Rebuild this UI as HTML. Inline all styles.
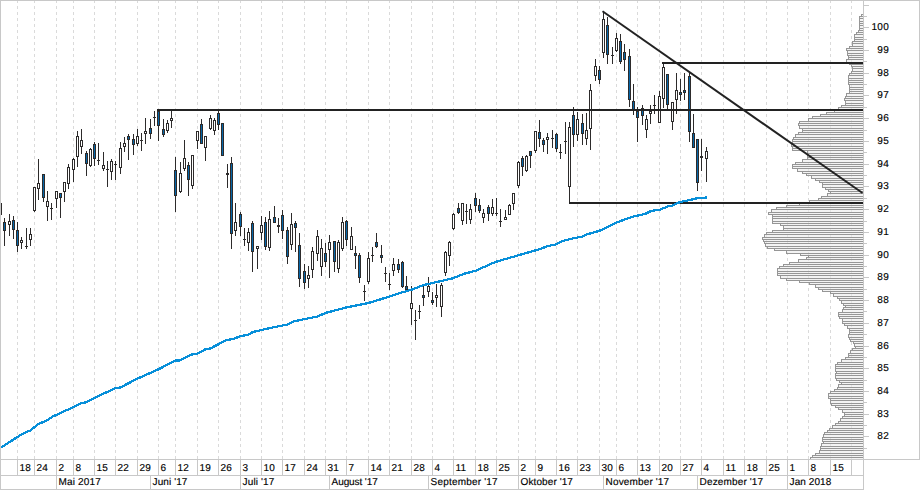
<!DOCTYPE html>
<html><head><meta charset="utf-8"><title>Chart</title>
<style>html,body{margin:0;padding:0;background:#fff;}svg{display:block;}text{font-family:"Liberation Sans",sans-serif;font-size:10px;fill:#000;stroke:#000;stroke-width:0.15px;letter-spacing:0.3px;text-rendering:geometricPrecision;}</style></head><body>
<svg width="920" height="490" viewBox="0 0 920 490">
<rect x="0" y="0" width="920" height="490" fill="#fff"/>
<g shape-rendering="crispEdges" stroke="#dadada" stroke-width="1" stroke-dasharray="3,3">
<line x1="17.5" y1="0" x2="17.5" y2="459"/>
<line x1="34.5" y1="0" x2="34.5" y2="459"/>
<line x1="56.5" y1="0" x2="56.5" y2="459"/>
<line x1="73.5" y1="0" x2="73.5" y2="459"/>
<line x1="94.5" y1="0" x2="94.5" y2="459"/>
<line x1="115.5" y1="0" x2="115.5" y2="459"/>
<line x1="137.5" y1="0" x2="137.5" y2="459"/>
<line x1="158.5" y1="0" x2="158.5" y2="459"/>
<line x1="175.5" y1="0" x2="175.5" y2="459"/>
<line x1="197.5" y1="0" x2="197.5" y2="459"/>
<line x1="218.5" y1="0" x2="218.5" y2="459"/>
<line x1="240.5" y1="0" x2="240.5" y2="459"/>
<line x1="261.5" y1="0" x2="261.5" y2="459"/>
<line x1="282.5" y1="0" x2="282.5" y2="459"/>
<line x1="304.5" y1="0" x2="304.5" y2="459"/>
<line x1="325.5" y1="0" x2="325.5" y2="459"/>
<line x1="346.5" y1="0" x2="346.5" y2="459"/>
<line x1="368.5" y1="0" x2="368.5" y2="459"/>
<line x1="389.5" y1="0" x2="389.5" y2="459"/>
<line x1="411.5" y1="0" x2="411.5" y2="459"/>
<line x1="432.5" y1="0" x2="432.5" y2="459"/>
<line x1="453.5" y1="0" x2="453.5" y2="459"/>
<line x1="475.5" y1="0" x2="475.5" y2="459"/>
<line x1="496.5" y1="0" x2="496.5" y2="459"/>
<line x1="518.5" y1="0" x2="518.5" y2="459"/>
<line x1="535.5" y1="0" x2="535.5" y2="459"/>
<line x1="556.5" y1="0" x2="556.5" y2="459"/>
<line x1="577.5" y1="0" x2="577.5" y2="459"/>
<line x1="599.5" y1="0" x2="599.5" y2="459"/>
<line x1="616.5" y1="0" x2="616.5" y2="459"/>
<line x1="637.5" y1="0" x2="637.5" y2="459"/>
<line x1="659.5" y1="0" x2="659.5" y2="459"/>
<line x1="680.5" y1="0" x2="680.5" y2="459"/>
<line x1="701.5" y1="0" x2="701.5" y2="459"/>
<line x1="723.5" y1="0" x2="723.5" y2="459"/>
<line x1="744.5" y1="0" x2="744.5" y2="459"/>
<line x1="766.5" y1="0" x2="766.5" y2="459"/>
<line x1="787.5" y1="0" x2="787.5" y2="459"/>
<line x1="808.5" y1="0" x2="808.5" y2="459"/>
<line x1="830.5" y1="0" x2="830.5" y2="459"/>
<line x1="851.5" y1="0" x2="851.5" y2="459"/>
</g>
<g shape-rendering="crispEdges" fill="#ebebeb" fill-opacity="0.6">
<rect x="861" y="14" width="2" height="2"/>
<rect x="859" y="16" width="4" height="2"/>
<rect x="859" y="18" width="4" height="3"/>
<rect x="859" y="21" width="4" height="2"/>
<rect x="859" y="23" width="4" height="2"/>
<rect x="859" y="25" width="4" height="3"/>
<rect x="859" y="28" width="4" height="2"/>
<rect x="858" y="30" width="5" height="2"/>
<rect x="856" y="32" width="7" height="2"/>
<rect x="854" y="34" width="9" height="3"/>
<rect x="854" y="37" width="9" height="2"/>
<rect x="854" y="39" width="9" height="2"/>
<rect x="852" y="41" width="11" height="2"/>
<rect x="852" y="43" width="11" height="3"/>
<rect x="849" y="46" width="14" height="2"/>
<rect x="846" y="48" width="17" height="2"/>
<rect x="847" y="50" width="16" height="3"/>
<rect x="847" y="53" width="16" height="2"/>
<rect x="848" y="55" width="15" height="2"/>
<rect x="848" y="57" width="15" height="2"/>
<rect x="846" y="59" width="17" height="3"/>
<rect x="849" y="62" width="14" height="2"/>
<rect x="851" y="64" width="12" height="2"/>
<rect x="852" y="66" width="11" height="2"/>
<rect x="852" y="68" width="11" height="3"/>
<rect x="851" y="71" width="12" height="2"/>
<rect x="849" y="73" width="14" height="2"/>
<rect x="848" y="75" width="15" height="3"/>
<rect x="848" y="78" width="15" height="2"/>
<rect x="848" y="80" width="15" height="2"/>
<rect x="848" y="82" width="15" height="2"/>
<rect x="849" y="84" width="14" height="3"/>
<rect x="849" y="87" width="14" height="2"/>
<rect x="849" y="89" width="14" height="2"/>
<rect x="849" y="91" width="14" height="2"/>
<rect x="846" y="93" width="17" height="3"/>
<rect x="845" y="96" width="18" height="2"/>
<rect x="844" y="98" width="19" height="2"/>
<rect x="845" y="100" width="18" height="3"/>
<rect x="845" y="103" width="18" height="2"/>
<rect x="841" y="105" width="22" height="2"/>
<rect x="838" y="107" width="25" height="2"/>
<rect x="834" y="109" width="29" height="3"/>
<rect x="826" y="112" width="37" height="2"/>
<rect x="820" y="114" width="43" height="2"/>
<rect x="812" y="116" width="51" height="2"/>
<rect x="808" y="118" width="55" height="3"/>
<rect x="799" y="121" width="64" height="2"/>
<rect x="798" y="123" width="65" height="2"/>
<rect x="799" y="125" width="64" height="3"/>
<rect x="802" y="128" width="61" height="2"/>
<rect x="802" y="130" width="61" height="2"/>
<rect x="798" y="132" width="65" height="2"/>
<rect x="795" y="134" width="68" height="3"/>
<rect x="793" y="137" width="70" height="2"/>
<rect x="792" y="139" width="71" height="2"/>
<rect x="792" y="141" width="71" height="2"/>
<rect x="791" y="143" width="72" height="3"/>
<rect x="792" y="146" width="71" height="2"/>
<rect x="792" y="148" width="71" height="2"/>
<rect x="807" y="150" width="56" height="3"/>
<rect x="807" y="153" width="56" height="2"/>
<rect x="807" y="155" width="56" height="2"/>
<rect x="807" y="157" width="56" height="2"/>
<rect x="802" y="159" width="61" height="3"/>
<rect x="795" y="162" width="68" height="2"/>
<rect x="792" y="164" width="71" height="2"/>
<rect x="792" y="166" width="71" height="2"/>
<rect x="797" y="168" width="66" height="3"/>
<rect x="802" y="171" width="61" height="2"/>
<rect x="806" y="173" width="57" height="2"/>
<rect x="811" y="175" width="52" height="3"/>
<rect x="815" y="178" width="48" height="2"/>
<rect x="819" y="180" width="44" height="2"/>
<rect x="822" y="182" width="41" height="2"/>
<rect x="822" y="184" width="41" height="3"/>
<rect x="825" y="187" width="38" height="2"/>
<rect x="828" y="189" width="35" height="2"/>
<rect x="830" y="191" width="33" height="2"/>
<rect x="827" y="193" width="36" height="3"/>
<rect x="821" y="196" width="42" height="2"/>
<rect x="818" y="198" width="45" height="2"/>
<rect x="809" y="200" width="54" height="3"/>
<rect x="799" y="203" width="64" height="2"/>
<rect x="786" y="205" width="77" height="2"/>
<rect x="776" y="207" width="87" height="2"/>
<rect x="771" y="209" width="92" height="3"/>
<rect x="768" y="212" width="95" height="2"/>
<rect x="772" y="214" width="91" height="2"/>
<rect x="772" y="216" width="91" height="2"/>
<rect x="772" y="218" width="91" height="3"/>
<rect x="772" y="221" width="91" height="2"/>
<rect x="780" y="223" width="83" height="2"/>
<rect x="783" y="225" width="80" height="3"/>
<rect x="783" y="228" width="80" height="2"/>
<rect x="772" y="230" width="91" height="2"/>
<rect x="766" y="232" width="97" height="2"/>
<rect x="764" y="234" width="99" height="3"/>
<rect x="762" y="237" width="101" height="2"/>
<rect x="763" y="239" width="100" height="2"/>
<rect x="764" y="241" width="99" height="2"/>
<rect x="765" y="243" width="98" height="3"/>
<rect x="767" y="246" width="96" height="2"/>
<rect x="774" y="248" width="89" height="2"/>
<rect x="786" y="250" width="77" height="3"/>
<rect x="800" y="253" width="63" height="2"/>
<rect x="808" y="255" width="55" height="2"/>
<rect x="806" y="257" width="57" height="2"/>
<rect x="798" y="259" width="65" height="3"/>
<rect x="789" y="262" width="74" height="2"/>
<rect x="783" y="264" width="80" height="2"/>
<rect x="779" y="266" width="84" height="2"/>
<rect x="777" y="268" width="86" height="3"/>
<rect x="777" y="271" width="86" height="2"/>
<rect x="777" y="273" width="86" height="2"/>
<rect x="780" y="275" width="83" height="3"/>
<rect x="786" y="278" width="77" height="2"/>
<rect x="799" y="280" width="64" height="2"/>
<rect x="809" y="282" width="54" height="2"/>
<rect x="815" y="284" width="48" height="3"/>
<rect x="818" y="287" width="45" height="2"/>
<rect x="822" y="289" width="41" height="2"/>
<rect x="830" y="291" width="33" height="2"/>
<rect x="833" y="293" width="30" height="3"/>
<rect x="837" y="296" width="26" height="2"/>
<rect x="839" y="298" width="24" height="2"/>
<rect x="841" y="300" width="22" height="3"/>
<rect x="843" y="303" width="20" height="2"/>
<rect x="845" y="305" width="18" height="2"/>
<rect x="843" y="307" width="20" height="2"/>
<rect x="842" y="309" width="21" height="3"/>
<rect x="838" y="312" width="25" height="2"/>
<rect x="838" y="314" width="25" height="2"/>
<rect x="839" y="316" width="24" height="2"/>
<rect x="842" y="318" width="21" height="3"/>
<rect x="842" y="321" width="21" height="2"/>
<rect x="844" y="323" width="19" height="2"/>
<rect x="847" y="325" width="16" height="3"/>
<rect x="849" y="328" width="14" height="2"/>
<rect x="849" y="330" width="14" height="2"/>
<rect x="849" y="332" width="14" height="2"/>
<rect x="848" y="334" width="15" height="3"/>
<rect x="849" y="337" width="14" height="2"/>
<rect x="850" y="339" width="13" height="2"/>
<rect x="853" y="341" width="10" height="2"/>
<rect x="854" y="343" width="9" height="3"/>
<rect x="855" y="346" width="8" height="2"/>
<rect x="852" y="348" width="11" height="2"/>
<rect x="850" y="350" width="13" height="3"/>
<rect x="848" y="353" width="15" height="2"/>
<rect x="848" y="355" width="15" height="2"/>
<rect x="845" y="357" width="18" height="2"/>
<rect x="841" y="359" width="22" height="3"/>
<rect x="837" y="362" width="26" height="2"/>
<rect x="835" y="364" width="28" height="2"/>
<rect x="835" y="366" width="28" height="2"/>
<rect x="835" y="368" width="28" height="3"/>
<rect x="836" y="371" width="27" height="2"/>
<rect x="835" y="373" width="28" height="2"/>
<rect x="835" y="375" width="28" height="3"/>
<rect x="836" y="378" width="27" height="2"/>
<rect x="839" y="380" width="24" height="2"/>
<rect x="841" y="382" width="22" height="2"/>
<rect x="838" y="384" width="25" height="3"/>
<rect x="837" y="387" width="26" height="2"/>
<rect x="834" y="389" width="29" height="2"/>
<rect x="830" y="391" width="33" height="2"/>
<rect x="828" y="393" width="35" height="3"/>
<rect x="828" y="396" width="35" height="2"/>
<rect x="830" y="398" width="33" height="2"/>
<rect x="830" y="400" width="33" height="3"/>
<rect x="831" y="403" width="32" height="2"/>
<rect x="835" y="405" width="28" height="2"/>
<rect x="838" y="407" width="25" height="2"/>
<rect x="842" y="409" width="21" height="3"/>
<rect x="844" y="412" width="19" height="2"/>
<rect x="844" y="414" width="19" height="2"/>
<rect x="842" y="416" width="21" height="2"/>
<rect x="840" y="418" width="23" height="3"/>
<rect x="838" y="421" width="25" height="2"/>
<rect x="835" y="423" width="28" height="2"/>
<rect x="832" y="425" width="31" height="3"/>
<rect x="829" y="428" width="34" height="2"/>
<rect x="827" y="430" width="36" height="2"/>
<rect x="824" y="432" width="39" height="2"/>
<rect x="823" y="434" width="40" height="3"/>
<rect x="822" y="437" width="41" height="2"/>
<rect x="822" y="439" width="41" height="2"/>
<rect x="823" y="441" width="40" height="2"/>
<rect x="821" y="443" width="42" height="3"/>
<rect x="820" y="446" width="43" height="2"/>
<rect x="820" y="448" width="43" height="2"/>
<rect x="819" y="450" width="44" height="3"/>
<rect x="815" y="453" width="48" height="2"/>
<rect x="812" y="455" width="51" height="2"/>
<rect x="810" y="457" width="53" height="2"/>
</g>
<g shape-rendering="crispEdges" fill="#969696">
<rect x="861" y="14" width="2" height="1"/>
<rect x="859" y="16" width="4" height="1"/>
<rect x="859" y="18" width="4" height="1"/>
<rect x="859" y="21" width="4" height="1"/>
<rect x="859" y="23" width="4" height="1"/>
<rect x="859" y="25" width="4" height="1"/>
<rect x="859" y="28" width="4" height="1"/>
<rect x="858" y="30" width="5" height="1"/>
<rect x="856" y="32" width="7" height="1"/>
<rect x="854" y="34" width="9" height="1"/>
<rect x="854" y="37" width="9" height="1"/>
<rect x="854" y="39" width="9" height="1"/>
<rect x="852" y="41" width="11" height="1"/>
<rect x="852" y="43" width="11" height="1"/>
<rect x="849" y="46" width="14" height="1"/>
<rect x="846" y="48" width="17" height="1"/>
<rect x="846" y="50" width="17" height="1"/>
<rect x="847" y="53" width="16" height="1"/>
<rect x="847" y="55" width="16" height="1"/>
<rect x="848" y="57" width="15" height="1"/>
<rect x="846" y="59" width="17" height="1"/>
<rect x="846" y="62" width="17" height="1"/>
<rect x="849" y="64" width="14" height="1"/>
<rect x="851" y="66" width="12" height="1"/>
<rect x="852" y="68" width="11" height="1"/>
<rect x="851" y="71" width="12" height="1"/>
<rect x="849" y="73" width="14" height="1"/>
<rect x="848" y="75" width="15" height="1"/>
<rect x="848" y="78" width="15" height="1"/>
<rect x="848" y="80" width="15" height="1"/>
<rect x="848" y="82" width="15" height="1"/>
<rect x="848" y="84" width="15" height="1"/>
<rect x="849" y="87" width="14" height="1"/>
<rect x="849" y="89" width="14" height="1"/>
<rect x="849" y="91" width="14" height="1"/>
<rect x="846" y="93" width="17" height="1"/>
<rect x="845" y="96" width="18" height="1"/>
<rect x="844" y="98" width="19" height="1"/>
<rect x="844" y="100" width="19" height="1"/>
<rect x="845" y="103" width="18" height="1"/>
<rect x="841" y="105" width="22" height="1"/>
<rect x="838" y="107" width="25" height="1"/>
<rect x="834" y="109" width="29" height="1"/>
<rect x="826" y="112" width="37" height="1"/>
<rect x="820" y="114" width="43" height="1"/>
<rect x="812" y="116" width="51" height="1"/>
<rect x="808" y="118" width="55" height="1"/>
<rect x="799" y="121" width="64" height="1"/>
<rect x="798" y="123" width="65" height="1"/>
<rect x="798" y="125" width="65" height="1"/>
<rect x="799" y="128" width="64" height="1"/>
<rect x="802" y="130" width="61" height="1"/>
<rect x="798" y="132" width="65" height="1"/>
<rect x="795" y="134" width="68" height="1"/>
<rect x="793" y="137" width="70" height="1"/>
<rect x="792" y="139" width="71" height="1"/>
<rect x="792" y="141" width="71" height="1"/>
<rect x="791" y="143" width="72" height="1"/>
<rect x="791" y="146" width="72" height="1"/>
<rect x="792" y="148" width="71" height="1"/>
<rect x="792" y="150" width="71" height="1"/>
<rect x="807" y="153" width="56" height="1"/>
<rect x="807" y="155" width="56" height="1"/>
<rect x="807" y="157" width="56" height="1"/>
<rect x="802" y="159" width="61" height="1"/>
<rect x="795" y="162" width="68" height="1"/>
<rect x="792" y="164" width="71" height="1"/>
<rect x="792" y="166" width="71" height="1"/>
<rect x="792" y="168" width="71" height="1"/>
<rect x="797" y="171" width="66" height="1"/>
<rect x="802" y="173" width="61" height="1"/>
<rect x="806" y="175" width="57" height="1"/>
<rect x="811" y="178" width="52" height="1"/>
<rect x="815" y="180" width="48" height="1"/>
<rect x="819" y="182" width="44" height="1"/>
<rect x="822" y="184" width="41" height="1"/>
<rect x="822" y="187" width="41" height="1"/>
<rect x="825" y="189" width="38" height="1"/>
<rect x="828" y="191" width="35" height="1"/>
<rect x="827" y="193" width="36" height="1"/>
<rect x="821" y="196" width="42" height="1"/>
<rect x="818" y="198" width="45" height="1"/>
<rect x="809" y="200" width="54" height="1"/>
<rect x="799" y="203" width="64" height="1"/>
<rect x="786" y="205" width="77" height="1"/>
<rect x="776" y="207" width="87" height="1"/>
<rect x="771" y="209" width="92" height="1"/>
<rect x="768" y="212" width="95" height="1"/>
<rect x="768" y="214" width="95" height="1"/>
<rect x="772" y="216" width="91" height="1"/>
<rect x="772" y="218" width="91" height="1"/>
<rect x="772" y="221" width="91" height="1"/>
<rect x="772" y="223" width="91" height="1"/>
<rect x="780" y="225" width="83" height="1"/>
<rect x="783" y="228" width="80" height="1"/>
<rect x="772" y="230" width="91" height="1"/>
<rect x="766" y="232" width="97" height="1"/>
<rect x="764" y="234" width="99" height="1"/>
<rect x="762" y="237" width="101" height="1"/>
<rect x="762" y="239" width="101" height="1"/>
<rect x="763" y="241" width="100" height="1"/>
<rect x="764" y="243" width="99" height="1"/>
<rect x="765" y="246" width="98" height="1"/>
<rect x="767" y="248" width="96" height="1"/>
<rect x="774" y="250" width="89" height="1"/>
<rect x="786" y="253" width="77" height="1"/>
<rect x="800" y="255" width="63" height="1"/>
<rect x="806" y="257" width="57" height="1"/>
<rect x="798" y="259" width="65" height="1"/>
<rect x="789" y="262" width="74" height="1"/>
<rect x="783" y="264" width="80" height="1"/>
<rect x="779" y="266" width="84" height="1"/>
<rect x="777" y="268" width="86" height="1"/>
<rect x="777" y="271" width="86" height="1"/>
<rect x="777" y="273" width="86" height="1"/>
<rect x="777" y="275" width="86" height="1"/>
<rect x="780" y="278" width="83" height="1"/>
<rect x="786" y="280" width="77" height="1"/>
<rect x="799" y="282" width="64" height="1"/>
<rect x="809" y="284" width="54" height="1"/>
<rect x="815" y="287" width="48" height="1"/>
<rect x="818" y="289" width="45" height="1"/>
<rect x="822" y="291" width="41" height="1"/>
<rect x="830" y="293" width="33" height="1"/>
<rect x="833" y="296" width="30" height="1"/>
<rect x="837" y="298" width="26" height="1"/>
<rect x="839" y="300" width="24" height="1"/>
<rect x="841" y="303" width="22" height="1"/>
<rect x="843" y="305" width="20" height="1"/>
<rect x="843" y="307" width="20" height="1"/>
<rect x="842" y="309" width="21" height="1"/>
<rect x="838" y="312" width="25" height="1"/>
<rect x="838" y="314" width="25" height="1"/>
<rect x="838" y="316" width="25" height="1"/>
<rect x="839" y="318" width="24" height="1"/>
<rect x="842" y="321" width="21" height="1"/>
<rect x="842" y="323" width="21" height="1"/>
<rect x="844" y="325" width="19" height="1"/>
<rect x="847" y="328" width="16" height="1"/>
<rect x="849" y="330" width="14" height="1"/>
<rect x="849" y="332" width="14" height="1"/>
<rect x="848" y="334" width="15" height="1"/>
<rect x="848" y="337" width="15" height="1"/>
<rect x="849" y="339" width="14" height="1"/>
<rect x="850" y="341" width="13" height="1"/>
<rect x="853" y="343" width="10" height="1"/>
<rect x="854" y="346" width="9" height="1"/>
<rect x="852" y="348" width="11" height="1"/>
<rect x="850" y="350" width="13" height="1"/>
<rect x="848" y="353" width="15" height="1"/>
<rect x="848" y="355" width="15" height="1"/>
<rect x="845" y="357" width="18" height="1"/>
<rect x="841" y="359" width="22" height="1"/>
<rect x="837" y="362" width="26" height="1"/>
<rect x="835" y="364" width="28" height="1"/>
<rect x="835" y="366" width="28" height="1"/>
<rect x="835" y="368" width="28" height="1"/>
<rect x="835" y="371" width="28" height="1"/>
<rect x="835" y="373" width="28" height="1"/>
<rect x="835" y="375" width="28" height="1"/>
<rect x="835" y="378" width="28" height="1"/>
<rect x="836" y="380" width="27" height="1"/>
<rect x="839" y="382" width="24" height="1"/>
<rect x="838" y="384" width="25" height="1"/>
<rect x="837" y="387" width="26" height="1"/>
<rect x="834" y="389" width="29" height="1"/>
<rect x="830" y="391" width="33" height="1"/>
<rect x="828" y="393" width="35" height="1"/>
<rect x="828" y="396" width="35" height="1"/>
<rect x="828" y="398" width="35" height="1"/>
<rect x="830" y="400" width="33" height="1"/>
<rect x="830" y="403" width="33" height="1"/>
<rect x="831" y="405" width="32" height="1"/>
<rect x="835" y="407" width="28" height="1"/>
<rect x="838" y="409" width="25" height="1"/>
<rect x="842" y="412" width="21" height="1"/>
<rect x="844" y="414" width="19" height="1"/>
<rect x="842" y="416" width="21" height="1"/>
<rect x="840" y="418" width="23" height="1"/>
<rect x="838" y="421" width="25" height="1"/>
<rect x="835" y="423" width="28" height="1"/>
<rect x="832" y="425" width="31" height="1"/>
<rect x="829" y="428" width="34" height="1"/>
<rect x="827" y="430" width="36" height="1"/>
<rect x="824" y="432" width="39" height="1"/>
<rect x="823" y="434" width="40" height="1"/>
<rect x="822" y="437" width="41" height="1"/>
<rect x="822" y="439" width="41" height="1"/>
<rect x="822" y="441" width="41" height="1"/>
<rect x="821" y="443" width="42" height="1"/>
<rect x="820" y="446" width="43" height="1"/>
<rect x="820" y="448" width="43" height="1"/>
<rect x="819" y="450" width="44" height="1"/>
<rect x="815" y="453" width="48" height="1"/>
<rect x="812" y="455" width="51" height="1"/>
<rect x="810" y="457" width="53" height="1"/>
<rect x="810" y="459" width="53" height="1"/>
<rect x="861" y="14" width="1" height="3"/>
<rect x="859" y="16" width="1" height="3"/>
<rect x="859" y="18" width="1" height="4"/>
<rect x="859" y="21" width="1" height="3"/>
<rect x="859" y="23" width="1" height="3"/>
<rect x="859" y="25" width="1" height="4"/>
<rect x="859" y="28" width="1" height="3"/>
<rect x="858" y="30" width="1" height="3"/>
<rect x="856" y="32" width="1" height="3"/>
<rect x="854" y="34" width="1" height="4"/>
<rect x="854" y="37" width="1" height="3"/>
<rect x="854" y="39" width="1" height="3"/>
<rect x="852" y="41" width="1" height="3"/>
<rect x="852" y="43" width="1" height="4"/>
<rect x="849" y="46" width="1" height="3"/>
<rect x="846" y="48" width="1" height="3"/>
<rect x="847" y="50" width="1" height="4"/>
<rect x="847" y="53" width="1" height="3"/>
<rect x="848" y="55" width="1" height="3"/>
<rect x="848" y="57" width="1" height="3"/>
<rect x="846" y="59" width="1" height="4"/>
<rect x="849" y="62" width="1" height="3"/>
<rect x="851" y="64" width="1" height="3"/>
<rect x="852" y="66" width="1" height="3"/>
<rect x="852" y="68" width="1" height="4"/>
<rect x="851" y="71" width="1" height="3"/>
<rect x="849" y="73" width="1" height="3"/>
<rect x="848" y="75" width="1" height="4"/>
<rect x="848" y="78" width="1" height="3"/>
<rect x="848" y="80" width="1" height="3"/>
<rect x="848" y="82" width="1" height="3"/>
<rect x="849" y="84" width="1" height="4"/>
<rect x="849" y="87" width="1" height="3"/>
<rect x="849" y="89" width="1" height="3"/>
<rect x="849" y="91" width="1" height="3"/>
<rect x="846" y="93" width="1" height="4"/>
<rect x="845" y="96" width="1" height="3"/>
<rect x="844" y="98" width="1" height="3"/>
<rect x="845" y="100" width="1" height="4"/>
<rect x="845" y="103" width="1" height="3"/>
<rect x="841" y="105" width="1" height="3"/>
<rect x="838" y="107" width="1" height="3"/>
<rect x="834" y="109" width="1" height="4"/>
<rect x="826" y="112" width="1" height="3"/>
<rect x="820" y="114" width="1" height="3"/>
<rect x="812" y="116" width="1" height="3"/>
<rect x="808" y="118" width="1" height="4"/>
<rect x="799" y="121" width="1" height="3"/>
<rect x="798" y="123" width="1" height="3"/>
<rect x="799" y="125" width="1" height="4"/>
<rect x="802" y="128" width="1" height="3"/>
<rect x="802" y="130" width="1" height="3"/>
<rect x="798" y="132" width="1" height="3"/>
<rect x="795" y="134" width="1" height="4"/>
<rect x="793" y="137" width="1" height="3"/>
<rect x="792" y="139" width="1" height="3"/>
<rect x="792" y="141" width="1" height="3"/>
<rect x="791" y="143" width="1" height="4"/>
<rect x="792" y="146" width="1" height="3"/>
<rect x="792" y="148" width="1" height="3"/>
<rect x="807" y="150" width="1" height="4"/>
<rect x="807" y="153" width="1" height="3"/>
<rect x="807" y="155" width="1" height="3"/>
<rect x="807" y="157" width="1" height="3"/>
<rect x="802" y="159" width="1" height="4"/>
<rect x="795" y="162" width="1" height="3"/>
<rect x="792" y="164" width="1" height="3"/>
<rect x="792" y="166" width="1" height="3"/>
<rect x="797" y="168" width="1" height="4"/>
<rect x="802" y="171" width="1" height="3"/>
<rect x="806" y="173" width="1" height="3"/>
<rect x="811" y="175" width="1" height="4"/>
<rect x="815" y="178" width="1" height="3"/>
<rect x="819" y="180" width="1" height="3"/>
<rect x="822" y="182" width="1" height="3"/>
<rect x="822" y="184" width="1" height="4"/>
<rect x="825" y="187" width="1" height="3"/>
<rect x="828" y="189" width="1" height="3"/>
<rect x="830" y="191" width="1" height="3"/>
<rect x="827" y="193" width="1" height="4"/>
<rect x="821" y="196" width="1" height="3"/>
<rect x="818" y="198" width="1" height="3"/>
<rect x="809" y="200" width="1" height="4"/>
<rect x="799" y="203" width="1" height="3"/>
<rect x="786" y="205" width="1" height="3"/>
<rect x="776" y="207" width="1" height="3"/>
<rect x="771" y="209" width="1" height="4"/>
<rect x="768" y="212" width="1" height="3"/>
<rect x="772" y="214" width="1" height="3"/>
<rect x="772" y="216" width="1" height="3"/>
<rect x="772" y="218" width="1" height="4"/>
<rect x="772" y="221" width="1" height="3"/>
<rect x="780" y="223" width="1" height="3"/>
<rect x="783" y="225" width="1" height="4"/>
<rect x="783" y="228" width="1" height="3"/>
<rect x="772" y="230" width="1" height="3"/>
<rect x="766" y="232" width="1" height="3"/>
<rect x="764" y="234" width="1" height="4"/>
<rect x="762" y="237" width="1" height="3"/>
<rect x="763" y="239" width="1" height="3"/>
<rect x="764" y="241" width="1" height="3"/>
<rect x="765" y="243" width="1" height="4"/>
<rect x="767" y="246" width="1" height="3"/>
<rect x="774" y="248" width="1" height="3"/>
<rect x="786" y="250" width="1" height="4"/>
<rect x="800" y="253" width="1" height="3"/>
<rect x="808" y="255" width="1" height="3"/>
<rect x="806" y="257" width="1" height="3"/>
<rect x="798" y="259" width="1" height="4"/>
<rect x="789" y="262" width="1" height="3"/>
<rect x="783" y="264" width="1" height="3"/>
<rect x="779" y="266" width="1" height="3"/>
<rect x="777" y="268" width="1" height="4"/>
<rect x="777" y="271" width="1" height="3"/>
<rect x="777" y="273" width="1" height="3"/>
<rect x="780" y="275" width="1" height="4"/>
<rect x="786" y="278" width="1" height="3"/>
<rect x="799" y="280" width="1" height="3"/>
<rect x="809" y="282" width="1" height="3"/>
<rect x="815" y="284" width="1" height="4"/>
<rect x="818" y="287" width="1" height="3"/>
<rect x="822" y="289" width="1" height="3"/>
<rect x="830" y="291" width="1" height="3"/>
<rect x="833" y="293" width="1" height="4"/>
<rect x="837" y="296" width="1" height="3"/>
<rect x="839" y="298" width="1" height="3"/>
<rect x="841" y="300" width="1" height="4"/>
<rect x="843" y="303" width="1" height="3"/>
<rect x="845" y="305" width="1" height="3"/>
<rect x="843" y="307" width="1" height="3"/>
<rect x="842" y="309" width="1" height="4"/>
<rect x="838" y="312" width="1" height="3"/>
<rect x="838" y="314" width="1" height="3"/>
<rect x="839" y="316" width="1" height="3"/>
<rect x="842" y="318" width="1" height="4"/>
<rect x="842" y="321" width="1" height="3"/>
<rect x="844" y="323" width="1" height="3"/>
<rect x="847" y="325" width="1" height="4"/>
<rect x="849" y="328" width="1" height="3"/>
<rect x="849" y="330" width="1" height="3"/>
<rect x="849" y="332" width="1" height="3"/>
<rect x="848" y="334" width="1" height="4"/>
<rect x="849" y="337" width="1" height="3"/>
<rect x="850" y="339" width="1" height="3"/>
<rect x="853" y="341" width="1" height="3"/>
<rect x="854" y="343" width="1" height="4"/>
<rect x="855" y="346" width="1" height="3"/>
<rect x="852" y="348" width="1" height="3"/>
<rect x="850" y="350" width="1" height="4"/>
<rect x="848" y="353" width="1" height="3"/>
<rect x="848" y="355" width="1" height="3"/>
<rect x="845" y="357" width="1" height="3"/>
<rect x="841" y="359" width="1" height="4"/>
<rect x="837" y="362" width="1" height="3"/>
<rect x="835" y="364" width="1" height="3"/>
<rect x="835" y="366" width="1" height="3"/>
<rect x="835" y="368" width="1" height="4"/>
<rect x="836" y="371" width="1" height="3"/>
<rect x="835" y="373" width="1" height="3"/>
<rect x="835" y="375" width="1" height="4"/>
<rect x="836" y="378" width="1" height="3"/>
<rect x="839" y="380" width="1" height="3"/>
<rect x="841" y="382" width="1" height="3"/>
<rect x="838" y="384" width="1" height="4"/>
<rect x="837" y="387" width="1" height="3"/>
<rect x="834" y="389" width="1" height="3"/>
<rect x="830" y="391" width="1" height="3"/>
<rect x="828" y="393" width="1" height="4"/>
<rect x="828" y="396" width="1" height="3"/>
<rect x="830" y="398" width="1" height="3"/>
<rect x="830" y="400" width="1" height="4"/>
<rect x="831" y="403" width="1" height="3"/>
<rect x="835" y="405" width="1" height="3"/>
<rect x="838" y="407" width="1" height="3"/>
<rect x="842" y="409" width="1" height="4"/>
<rect x="844" y="412" width="1" height="3"/>
<rect x="844" y="414" width="1" height="3"/>
<rect x="842" y="416" width="1" height="3"/>
<rect x="840" y="418" width="1" height="4"/>
<rect x="838" y="421" width="1" height="3"/>
<rect x="835" y="423" width="1" height="3"/>
<rect x="832" y="425" width="1" height="4"/>
<rect x="829" y="428" width="1" height="3"/>
<rect x="827" y="430" width="1" height="3"/>
<rect x="824" y="432" width="1" height="3"/>
<rect x="823" y="434" width="1" height="4"/>
<rect x="822" y="437" width="1" height="3"/>
<rect x="822" y="439" width="1" height="3"/>
<rect x="823" y="441" width="1" height="3"/>
<rect x="821" y="443" width="1" height="4"/>
<rect x="820" y="446" width="1" height="3"/>
<rect x="820" y="448" width="1" height="3"/>
<rect x="819" y="450" width="1" height="4"/>
<rect x="815" y="453" width="1" height="3"/>
<rect x="812" y="455" width="1" height="3"/>
<rect x="810" y="457" width="1" height="3"/>
</g>
<g shape-rendering="crispEdges">
<rect x="1" y="203" width="1" height="12" fill="#2d2b2b"/>
<rect x="4" y="218" width="1" height="28" fill="#2d2b2b"/>
<rect x="3" y="222" width="3" height="9" fill="#2d2b2b"/>
<rect x="4" y="223" width="1" height="7" fill="#0566a8"/>
<rect x="9" y="214" width="1" height="22" fill="#2d2b2b"/>
<rect x="8" y="221" width="3" height="4" fill="#2d2b2b"/>
<rect x="9" y="222" width="1" height="2" fill="#fff"/>
<rect x="13" y="216" width="1" height="23" fill="#2d2b2b"/>
<rect x="12" y="220" width="3" height="10" fill="#2d2b2b"/>
<rect x="13" y="221" width="1" height="8" fill="#0566a8"/>
<rect x="17" y="222" width="1" height="30" fill="#2d2b2b"/>
<rect x="16" y="230" width="3" height="16" fill="#2d2b2b"/>
<rect x="17" y="231" width="1" height="14" fill="#0566a8"/>
<rect x="21" y="237" width="1" height="12" fill="#2d2b2b"/>
<rect x="20" y="240" width="3" height="3" fill="#2d2b2b"/>
<rect x="21" y="241" width="1" height="1" fill="#fff"/>
<rect x="26" y="228" width="1" height="21" fill="#2d2b2b"/>
<rect x="25" y="246" width="3" height="1" fill="#2d2b2b"/>
<rect x="30" y="228" width="1" height="18" fill="#2d2b2b"/>
<rect x="29" y="234" width="3" height="6" fill="#2d2b2b"/>
<rect x="30" y="235" width="1" height="4" fill="#fff"/>
<rect x="34" y="187" width="1" height="25" fill="#2d2b2b"/>
<rect x="33" y="187" width="3" height="24" fill="#2d2b2b"/>
<rect x="34" y="188" width="1" height="22" fill="#fff"/>
<rect x="38" y="159" width="1" height="41" fill="#2d2b2b"/>
<rect x="37" y="183" width="3" height="6" fill="#2d2b2b"/>
<rect x="38" y="184" width="1" height="4" fill="#fff"/>
<rect x="43" y="174" width="1" height="28" fill="#2d2b2b"/>
<rect x="42" y="174" width="3" height="24" fill="#2d2b2b"/>
<rect x="43" y="175" width="1" height="22" fill="#0566a8"/>
<rect x="47" y="191" width="1" height="30" fill="#2d2b2b"/>
<rect x="46" y="201" width="3" height="6" fill="#2d2b2b"/>
<rect x="47" y="202" width="1" height="4" fill="#fff"/>
<rect x="51" y="203" width="1" height="17" fill="#2d2b2b"/>
<rect x="50" y="208" width="3" height="1" fill="#2d2b2b"/>
<rect x="56" y="191" width="1" height="17" fill="#2d2b2b"/>
<rect x="55" y="191" width="3" height="8" fill="#2d2b2b"/>
<rect x="56" y="192" width="1" height="6" fill="#fff"/>
<rect x="60" y="193" width="1" height="25" fill="#2d2b2b"/>
<rect x="59" y="193" width="3" height="5" fill="#2d2b2b"/>
<rect x="60" y="194" width="1" height="3" fill="#0566a8"/>
<rect x="64" y="182" width="1" height="20" fill="#2d2b2b"/>
<rect x="63" y="182" width="3" height="10" fill="#2d2b2b"/>
<rect x="64" y="183" width="1" height="8" fill="#fff"/>
<rect x="68" y="164" width="1" height="25" fill="#2d2b2b"/>
<rect x="67" y="167" width="3" height="17" fill="#2d2b2b"/>
<rect x="68" y="168" width="1" height="15" fill="#fff"/>
<rect x="73" y="158" width="1" height="24" fill="#2d2b2b"/>
<rect x="72" y="159" width="3" height="11" fill="#2d2b2b"/>
<rect x="73" y="160" width="1" height="9" fill="#fff"/>
<rect x="77" y="131" width="1" height="36" fill="#2d2b2b"/>
<rect x="76" y="136" width="3" height="21" fill="#2d2b2b"/>
<rect x="77" y="137" width="1" height="19" fill="#fff"/>
<rect x="81" y="129" width="1" height="25" fill="#2d2b2b"/>
<rect x="80" y="140" width="3" height="7" fill="#2d2b2b"/>
<rect x="81" y="141" width="1" height="5" fill="#fff"/>
<rect x="86" y="151" width="1" height="25" fill="#2d2b2b"/>
<rect x="85" y="153" width="3" height="11" fill="#2d2b2b"/>
<rect x="86" y="154" width="1" height="9" fill="#0566a8"/>
<rect x="90" y="148" width="1" height="19" fill="#2d2b2b"/>
<rect x="89" y="149" width="3" height="17" fill="#2d2b2b"/>
<rect x="90" y="150" width="1" height="15" fill="#fff"/>
<rect x="94" y="142" width="1" height="24" fill="#2d2b2b"/>
<rect x="93" y="144" width="3" height="15" fill="#2d2b2b"/>
<rect x="94" y="145" width="1" height="13" fill="#0566a8"/>
<rect x="98" y="143" width="1" height="22" fill="#2d2b2b"/>
<rect x="97" y="160" width="3" height="1" fill="#2d2b2b"/>
<rect x="103" y="152" width="1" height="19" fill="#2d2b2b"/>
<rect x="102" y="165" width="3" height="4" fill="#2d2b2b"/>
<rect x="103" y="166" width="1" height="2" fill="#fff"/>
<rect x="107" y="161" width="1" height="26" fill="#2d2b2b"/>
<rect x="106" y="169" width="3" height="1" fill="#2d2b2b"/>
<rect x="111" y="159" width="1" height="21" fill="#2d2b2b"/>
<rect x="110" y="161" width="3" height="11" fill="#2d2b2b"/>
<rect x="111" y="162" width="1" height="9" fill="#fff"/>
<rect x="115" y="161" width="1" height="19" fill="#2d2b2b"/>
<rect x="114" y="164" width="3" height="1" fill="#2d2b2b"/>
<rect x="120" y="142" width="1" height="32" fill="#2d2b2b"/>
<rect x="119" y="148" width="3" height="20" fill="#2d2b2b"/>
<rect x="120" y="149" width="1" height="18" fill="#fff"/>
<rect x="124" y="137" width="1" height="15" fill="#2d2b2b"/>
<rect x="123" y="143" width="3" height="4" fill="#2d2b2b"/>
<rect x="124" y="144" width="1" height="2" fill="#fff"/>
<rect x="128" y="134" width="1" height="26" fill="#2d2b2b"/>
<rect x="127" y="136" width="3" height="4" fill="#2d2b2b"/>
<rect x="128" y="137" width="1" height="2" fill="#0566a8"/>
<rect x="133" y="134" width="1" height="21" fill="#2d2b2b"/>
<rect x="132" y="139" width="3" height="6" fill="#2d2b2b"/>
<rect x="133" y="140" width="1" height="4" fill="#0566a8"/>
<rect x="137" y="129" width="1" height="17" fill="#2d2b2b"/>
<rect x="136" y="136" width="3" height="8" fill="#2d2b2b"/>
<rect x="137" y="137" width="1" height="6" fill="#fff"/>
<rect x="141" y="133" width="1" height="18" fill="#2d2b2b"/>
<rect x="140" y="140" width="3" height="1" fill="#2d2b2b"/>
<rect x="145" y="118" width="1" height="26" fill="#2d2b2b"/>
<rect x="144" y="131" width="3" height="3" fill="#2d2b2b"/>
<rect x="145" y="132" width="1" height="1" fill="#fff"/>
<rect x="150" y="119" width="1" height="20" fill="#2d2b2b"/>
<rect x="149" y="128" width="3" height="6" fill="#2d2b2b"/>
<rect x="150" y="129" width="1" height="4" fill="#0566a8"/>
<rect x="154" y="111" width="1" height="15" fill="#2d2b2b"/>
<rect x="153" y="117" width="3" height="1" fill="#2d2b2b"/>
<rect x="158" y="110" width="1" height="31" fill="#2d2b2b"/>
<rect x="157" y="111" width="3" height="15" fill="#2d2b2b"/>
<rect x="158" y="112" width="1" height="13" fill="#0566a8"/>
<rect x="163" y="119" width="1" height="18" fill="#2d2b2b"/>
<rect x="162" y="129" width="3" height="6" fill="#2d2b2b"/>
<rect x="163" y="130" width="1" height="4" fill="#0566a8"/>
<rect x="167" y="120" width="1" height="13" fill="#2d2b2b"/>
<rect x="166" y="123" width="3" height="8" fill="#2d2b2b"/>
<rect x="167" y="124" width="1" height="6" fill="#fff"/>
<rect x="171" y="111" width="1" height="17" fill="#2d2b2b"/>
<rect x="170" y="118" width="3" height="3" fill="#2d2b2b"/>
<rect x="171" y="119" width="1" height="1" fill="#fff"/>
<rect x="175" y="157" width="1" height="55" fill="#2d2b2b"/>
<rect x="174" y="170" width="3" height="26" fill="#2d2b2b"/>
<rect x="175" y="171" width="1" height="24" fill="#0566a8"/>
<rect x="180" y="162" width="1" height="31" fill="#2d2b2b"/>
<rect x="179" y="173" width="3" height="19" fill="#2d2b2b"/>
<rect x="180" y="174" width="1" height="17" fill="#fff"/>
<rect x="184" y="140" width="1" height="31" fill="#2d2b2b"/>
<rect x="183" y="158" width="3" height="11" fill="#2d2b2b"/>
<rect x="184" y="159" width="1" height="9" fill="#fff"/>
<rect x="188" y="162" width="1" height="34" fill="#2d2b2b"/>
<rect x="187" y="165" width="3" height="15" fill="#2d2b2b"/>
<rect x="188" y="166" width="1" height="13" fill="#0566a8"/>
<rect x="192" y="155" width="1" height="34" fill="#2d2b2b"/>
<rect x="191" y="155" width="3" height="31" fill="#2d2b2b"/>
<rect x="192" y="156" width="1" height="29" fill="#fff"/>
<rect x="197" y="131" width="1" height="18" fill="#2d2b2b"/>
<rect x="196" y="131" width="3" height="10" fill="#2d2b2b"/>
<rect x="197" y="132" width="1" height="8" fill="#fff"/>
<rect x="201" y="119" width="1" height="25" fill="#2d2b2b"/>
<rect x="200" y="124" width="3" height="20" fill="#2d2b2b"/>
<rect x="201" y="125" width="1" height="18" fill="#0566a8"/>
<rect x="205" y="136" width="1" height="25" fill="#2d2b2b"/>
<rect x="204" y="136" width="3" height="12" fill="#2d2b2b"/>
<rect x="205" y="137" width="1" height="10" fill="#fff"/>
<rect x="210" y="115" width="1" height="15" fill="#2d2b2b"/>
<rect x="209" y="118" width="3" height="11" fill="#2d2b2b"/>
<rect x="210" y="119" width="1" height="9" fill="#fff"/>
<rect x="214" y="118" width="1" height="17" fill="#2d2b2b"/>
<rect x="213" y="120" width="3" height="11" fill="#2d2b2b"/>
<rect x="214" y="121" width="1" height="9" fill="#fff"/>
<rect x="218" y="110" width="1" height="20" fill="#2d2b2b"/>
<rect x="217" y="113" width="3" height="12" fill="#2d2b2b"/>
<rect x="218" y="114" width="1" height="10" fill="#0566a8"/>
<rect x="222" y="123" width="1" height="33" fill="#2d2b2b"/>
<rect x="221" y="123" width="3" height="33" fill="#2d2b2b"/>
<rect x="222" y="124" width="1" height="31" fill="#0566a8"/>
<rect x="227" y="164" width="1" height="24" fill="#2d2b2b"/>
<rect x="226" y="173" width="3" height="2" fill="#2d2b2b"/>
<rect x="231" y="157" width="1" height="92" fill="#2d2b2b"/>
<rect x="230" y="163" width="3" height="71" fill="#2d2b2b"/>
<rect x="231" y="164" width="1" height="69" fill="#0566a8"/>
<rect x="235" y="203" width="1" height="33" fill="#2d2b2b"/>
<rect x="234" y="222" width="3" height="9" fill="#2d2b2b"/>
<rect x="235" y="223" width="1" height="7" fill="#fff"/>
<rect x="240" y="212" width="1" height="24" fill="#2d2b2b"/>
<rect x="239" y="214" width="3" height="13" fill="#2d2b2b"/>
<rect x="240" y="215" width="1" height="11" fill="#0566a8"/>
<rect x="244" y="228" width="1" height="18" fill="#2d2b2b"/>
<rect x="243" y="239" width="3" height="1" fill="#2d2b2b"/>
<rect x="248" y="228" width="1" height="23" fill="#2d2b2b"/>
<rect x="247" y="232" width="3" height="11" fill="#2d2b2b"/>
<rect x="248" y="233" width="1" height="9" fill="#fff"/>
<rect x="252" y="221" width="1" height="51" fill="#2d2b2b"/>
<rect x="251" y="223" width="3" height="29" fill="#2d2b2b"/>
<rect x="252" y="224" width="1" height="27" fill="#0566a8"/>
<rect x="257" y="246" width="1" height="23" fill="#2d2b2b"/>
<rect x="256" y="246" width="3" height="3" fill="#2d2b2b"/>
<rect x="257" y="247" width="1" height="1" fill="#fff"/>
<rect x="261" y="216" width="1" height="24" fill="#2d2b2b"/>
<rect x="260" y="225" width="3" height="8" fill="#2d2b2b"/>
<rect x="261" y="226" width="1" height="6" fill="#fff"/>
<rect x="265" y="217" width="1" height="33" fill="#2d2b2b"/>
<rect x="264" y="222" width="3" height="25" fill="#2d2b2b"/>
<rect x="265" y="223" width="1" height="23" fill="#0566a8"/>
<rect x="269" y="211" width="1" height="40" fill="#2d2b2b"/>
<rect x="268" y="219" width="3" height="29" fill="#2d2b2b"/>
<rect x="269" y="220" width="1" height="27" fill="#fff"/>
<rect x="274" y="206" width="1" height="17" fill="#2d2b2b"/>
<rect x="273" y="217" width="3" height="6" fill="#2d2b2b"/>
<rect x="274" y="218" width="1" height="4" fill="#0566a8"/>
<rect x="278" y="218" width="1" height="15" fill="#2d2b2b"/>
<rect x="277" y="225" width="3" height="2" fill="#2d2b2b"/>
<rect x="282" y="210" width="1" height="29" fill="#2d2b2b"/>
<rect x="281" y="215" width="3" height="16" fill="#2d2b2b"/>
<rect x="282" y="216" width="1" height="14" fill="#0566a8"/>
<rect x="287" y="227" width="1" height="37" fill="#2d2b2b"/>
<rect x="286" y="230" width="3" height="27" fill="#2d2b2b"/>
<rect x="287" y="231" width="1" height="25" fill="#0566a8"/>
<rect x="291" y="213" width="1" height="37" fill="#2d2b2b"/>
<rect x="290" y="224" width="3" height="21" fill="#2d2b2b"/>
<rect x="291" y="225" width="1" height="19" fill="#fff"/>
<rect x="295" y="221" width="1" height="31" fill="#2d2b2b"/>
<rect x="294" y="223" width="3" height="5" fill="#2d2b2b"/>
<rect x="295" y="224" width="1" height="3" fill="#0566a8"/>
<rect x="299" y="233" width="1" height="54" fill="#2d2b2b"/>
<rect x="298" y="245" width="3" height="34" fill="#2d2b2b"/>
<rect x="299" y="246" width="1" height="32" fill="#0566a8"/>
<rect x="304" y="264" width="1" height="25" fill="#2d2b2b"/>
<rect x="303" y="271" width="3" height="12" fill="#2d2b2b"/>
<rect x="304" y="272" width="1" height="10" fill="#0566a8"/>
<rect x="308" y="266" width="1" height="22" fill="#2d2b2b"/>
<rect x="307" y="275" width="3" height="4" fill="#2d2b2b"/>
<rect x="308" y="276" width="1" height="2" fill="#fff"/>
<rect x="312" y="247" width="1" height="31" fill="#2d2b2b"/>
<rect x="311" y="251" width="3" height="19" fill="#2d2b2b"/>
<rect x="312" y="252" width="1" height="17" fill="#fff"/>
<rect x="317" y="230" width="1" height="31" fill="#2d2b2b"/>
<rect x="316" y="236" width="3" height="18" fill="#2d2b2b"/>
<rect x="317" y="237" width="1" height="16" fill="#fff"/>
<rect x="321" y="239" width="1" height="37" fill="#2d2b2b"/>
<rect x="320" y="248" width="3" height="19" fill="#2d2b2b"/>
<rect x="321" y="249" width="1" height="17" fill="#fff"/>
<rect x="325" y="243" width="1" height="24" fill="#2d2b2b"/>
<rect x="324" y="253" width="3" height="9" fill="#2d2b2b"/>
<rect x="325" y="254" width="1" height="7" fill="#0566a8"/>
<rect x="329" y="235" width="1" height="43" fill="#2d2b2b"/>
<rect x="328" y="242" width="3" height="8" fill="#2d2b2b"/>
<rect x="329" y="243" width="1" height="6" fill="#fff"/>
<rect x="334" y="241" width="1" height="31" fill="#2d2b2b"/>
<rect x="333" y="241" width="3" height="21" fill="#2d2b2b"/>
<rect x="334" y="242" width="1" height="19" fill="#0566a8"/>
<rect x="338" y="240" width="1" height="33" fill="#2d2b2b"/>
<rect x="337" y="242" width="3" height="27" fill="#2d2b2b"/>
<rect x="338" y="243" width="1" height="25" fill="#fff"/>
<rect x="342" y="217" width="1" height="34" fill="#2d2b2b"/>
<rect x="341" y="222" width="3" height="27" fill="#2d2b2b"/>
<rect x="342" y="223" width="1" height="25" fill="#fff"/>
<rect x="346" y="220" width="1" height="26" fill="#2d2b2b"/>
<rect x="345" y="221" width="3" height="19" fill="#2d2b2b"/>
<rect x="346" y="222" width="1" height="17" fill="#0566a8"/>
<rect x="351" y="227" width="1" height="23" fill="#2d2b2b"/>
<rect x="350" y="236" width="3" height="14" fill="#2d2b2b"/>
<rect x="351" y="237" width="1" height="12" fill="#fff"/>
<rect x="355" y="246" width="1" height="23" fill="#2d2b2b"/>
<rect x="354" y="253" width="3" height="3" fill="#2d2b2b"/>
<rect x="355" y="254" width="1" height="1" fill="#0566a8"/>
<rect x="359" y="253" width="1" height="30" fill="#2d2b2b"/>
<rect x="358" y="255" width="3" height="23" fill="#2d2b2b"/>
<rect x="359" y="256" width="1" height="21" fill="#0566a8"/>
<rect x="364" y="285" width="1" height="16" fill="#2d2b2b"/>
<rect x="363" y="291" width="3" height="1" fill="#2d2b2b"/>
<rect x="368" y="252" width="1" height="32" fill="#2d2b2b"/>
<rect x="367" y="258" width="3" height="24" fill="#2d2b2b"/>
<rect x="368" y="259" width="1" height="22" fill="#fff"/>
<rect x="372" y="247" width="1" height="15" fill="#2d2b2b"/>
<rect x="371" y="255" width="3" height="1" fill="#2d2b2b"/>
<rect x="376" y="233" width="1" height="15" fill="#2d2b2b"/>
<rect x="375" y="242" width="3" height="5" fill="#2d2b2b"/>
<rect x="376" y="243" width="1" height="3" fill="#0566a8"/>
<rect x="381" y="245" width="1" height="18" fill="#2d2b2b"/>
<rect x="380" y="255" width="3" height="3" fill="#2d2b2b"/>
<rect x="381" y="256" width="1" height="1" fill="#0566a8"/>
<rect x="385" y="267" width="1" height="15" fill="#2d2b2b"/>
<rect x="384" y="273" width="3" height="1" fill="#2d2b2b"/>
<rect x="389" y="273" width="1" height="17" fill="#2d2b2b"/>
<rect x="388" y="284" width="3" height="1" fill="#2d2b2b"/>
<rect x="393" y="258" width="1" height="18" fill="#2d2b2b"/>
<rect x="392" y="264" width="3" height="7" fill="#2d2b2b"/>
<rect x="393" y="265" width="1" height="5" fill="#fff"/>
<rect x="398" y="259" width="1" height="14" fill="#2d2b2b"/>
<rect x="397" y="264" width="3" height="6" fill="#2d2b2b"/>
<rect x="398" y="265" width="1" height="4" fill="#0566a8"/>
<rect x="402" y="261" width="1" height="27" fill="#2d2b2b"/>
<rect x="401" y="262" width="3" height="25" fill="#2d2b2b"/>
<rect x="402" y="263" width="1" height="23" fill="#0566a8"/>
<rect x="406" y="276" width="1" height="15" fill="#2d2b2b"/>
<rect x="405" y="286" width="3" height="4" fill="#2d2b2b"/>
<rect x="406" y="287" width="1" height="2" fill="#0566a8"/>
<rect x="411" y="286" width="1" height="39" fill="#2d2b2b"/>
<rect x="410" y="303" width="3" height="6" fill="#2d2b2b"/>
<rect x="411" y="304" width="1" height="4" fill="#fff"/>
<rect x="415" y="310" width="1" height="30" fill="#2d2b2b"/>
<rect x="414" y="320" width="3" height="1" fill="#2d2b2b"/>
<rect x="419" y="305" width="1" height="14" fill="#2d2b2b"/>
<rect x="418" y="311" width="3" height="1" fill="#2d2b2b"/>
<rect x="423" y="286" width="1" height="20" fill="#2d2b2b"/>
<rect x="422" y="295" width="3" height="3" fill="#2d2b2b"/>
<rect x="423" y="296" width="1" height="1" fill="#0566a8"/>
<rect x="428" y="277" width="1" height="20" fill="#2d2b2b"/>
<rect x="427" y="286" width="3" height="6" fill="#2d2b2b"/>
<rect x="428" y="287" width="1" height="4" fill="#fff"/>
<rect x="432" y="292" width="1" height="13" fill="#2d2b2b"/>
<rect x="431" y="300" width="3" height="3" fill="#2d2b2b"/>
<rect x="432" y="301" width="1" height="1" fill="#0566a8"/>
<rect x="436" y="284" width="1" height="23" fill="#2d2b2b"/>
<rect x="435" y="295" width="3" height="3" fill="#2d2b2b"/>
<rect x="436" y="296" width="1" height="1" fill="#fff"/>
<rect x="441" y="283" width="1" height="34" fill="#2d2b2b"/>
<rect x="440" y="285" width="3" height="22" fill="#2d2b2b"/>
<rect x="441" y="286" width="1" height="20" fill="#fff"/>
<rect x="445" y="251" width="1" height="25" fill="#2d2b2b"/>
<rect x="444" y="252" width="3" height="21" fill="#2d2b2b"/>
<rect x="445" y="253" width="1" height="19" fill="#fff"/>
<rect x="449" y="241" width="1" height="25" fill="#2d2b2b"/>
<rect x="448" y="242" width="3" height="14" fill="#2d2b2b"/>
<rect x="449" y="243" width="1" height="12" fill="#fff"/>
<rect x="453" y="213" width="1" height="17" fill="#2d2b2b"/>
<rect x="452" y="214" width="3" height="15" fill="#2d2b2b"/>
<rect x="453" y="215" width="1" height="13" fill="#fff"/>
<rect x="458" y="203" width="1" height="11" fill="#2d2b2b"/>
<rect x="457" y="208" width="3" height="5" fill="#2d2b2b"/>
<rect x="458" y="209" width="1" height="3" fill="#0566a8"/>
<rect x="462" y="203" width="1" height="22" fill="#2d2b2b"/>
<rect x="461" y="203" width="3" height="18" fill="#2d2b2b"/>
<rect x="462" y="204" width="1" height="16" fill="#fff"/>
<rect x="466" y="204" width="1" height="20" fill="#2d2b2b"/>
<rect x="465" y="211" width="3" height="1" fill="#2d2b2b"/>
<rect x="470" y="204" width="1" height="20" fill="#2d2b2b"/>
<rect x="469" y="209" width="3" height="11" fill="#2d2b2b"/>
<rect x="470" y="210" width="1" height="9" fill="#fff"/>
<rect x="475" y="193" width="1" height="19" fill="#2d2b2b"/>
<rect x="474" y="198" width="3" height="8" fill="#2d2b2b"/>
<rect x="475" y="199" width="1" height="6" fill="#0566a8"/>
<rect x="479" y="199" width="1" height="14" fill="#2d2b2b"/>
<rect x="478" y="205" width="3" height="6" fill="#2d2b2b"/>
<rect x="479" y="206" width="1" height="4" fill="#0566a8"/>
<rect x="483" y="209" width="1" height="14" fill="#2d2b2b"/>
<rect x="482" y="213" width="3" height="5" fill="#2d2b2b"/>
<rect x="483" y="214" width="1" height="3" fill="#fff"/>
<rect x="488" y="205" width="1" height="16" fill="#2d2b2b"/>
<rect x="487" y="207" width="3" height="7" fill="#2d2b2b"/>
<rect x="488" y="208" width="1" height="5" fill="#0566a8"/>
<rect x="492" y="199" width="1" height="17" fill="#2d2b2b"/>
<rect x="491" y="207" width="3" height="7" fill="#2d2b2b"/>
<rect x="492" y="208" width="1" height="5" fill="#fff"/>
<rect x="496" y="198" width="1" height="18" fill="#2d2b2b"/>
<rect x="495" y="213" width="3" height="1" fill="#2d2b2b"/>
<rect x="500" y="209" width="1" height="18" fill="#2d2b2b"/>
<rect x="499" y="221" width="3" height="1" fill="#2d2b2b"/>
<rect x="505" y="210" width="1" height="10" fill="#2d2b2b"/>
<rect x="504" y="217" width="3" height="3" fill="#2d2b2b"/>
<rect x="505" y="218" width="1" height="1" fill="#fff"/>
<rect x="509" y="204" width="1" height="11" fill="#2d2b2b"/>
<rect x="508" y="205" width="3" height="10" fill="#2d2b2b"/>
<rect x="509" y="206" width="1" height="8" fill="#fff"/>
<rect x="513" y="193" width="1" height="17" fill="#2d2b2b"/>
<rect x="512" y="193" width="3" height="11" fill="#2d2b2b"/>
<rect x="513" y="194" width="1" height="9" fill="#fff"/>
<rect x="518" y="161" width="1" height="27" fill="#2d2b2b"/>
<rect x="517" y="162" width="3" height="24" fill="#2d2b2b"/>
<rect x="518" y="163" width="1" height="22" fill="#fff"/>
<rect x="522" y="156" width="1" height="20" fill="#2d2b2b"/>
<rect x="521" y="158" width="3" height="9" fill="#2d2b2b"/>
<rect x="522" y="159" width="1" height="7" fill="#0566a8"/>
<rect x="526" y="155" width="1" height="17" fill="#2d2b2b"/>
<rect x="525" y="156" width="3" height="15" fill="#2d2b2b"/>
<rect x="526" y="157" width="1" height="13" fill="#fff"/>
<rect x="530" y="151" width="1" height="17" fill="#2d2b2b"/>
<rect x="529" y="151" width="3" height="5" fill="#2d2b2b"/>
<rect x="530" y="152" width="1" height="3" fill="#0566a8"/>
<rect x="535" y="131" width="1" height="22" fill="#2d2b2b"/>
<rect x="534" y="131" width="3" height="20" fill="#2d2b2b"/>
<rect x="535" y="132" width="1" height="18" fill="#fff"/>
<rect x="539" y="120" width="1" height="27" fill="#2d2b2b"/>
<rect x="538" y="132" width="3" height="7" fill="#2d2b2b"/>
<rect x="539" y="133" width="1" height="5" fill="#0566a8"/>
<rect x="543" y="138" width="1" height="14" fill="#2d2b2b"/>
<rect x="542" y="140" width="3" height="5" fill="#2d2b2b"/>
<rect x="543" y="141" width="1" height="3" fill="#0566a8"/>
<rect x="547" y="133" width="1" height="21" fill="#2d2b2b"/>
<rect x="546" y="137" width="3" height="3" fill="#2d2b2b"/>
<rect x="547" y="138" width="1" height="1" fill="#fff"/>
<rect x="552" y="130" width="1" height="18" fill="#2d2b2b"/>
<rect x="551" y="138" width="3" height="1" fill="#2d2b2b"/>
<rect x="556" y="133" width="1" height="19" fill="#2d2b2b"/>
<rect x="555" y="134" width="3" height="15" fill="#2d2b2b"/>
<rect x="556" y="135" width="1" height="13" fill="#0566a8"/>
<rect x="560" y="144" width="1" height="15" fill="#2d2b2b"/>
<rect x="559" y="152" width="3" height="1" fill="#2d2b2b"/>
<rect x="565" y="122" width="1" height="32" fill="#2d2b2b"/>
<rect x="564" y="141" width="3" height="1" fill="#2d2b2b"/>
<rect x="569" y="122" width="1" height="81" fill="#2d2b2b"/>
<rect x="568" y="127" width="3" height="60" fill="#2d2b2b"/>
<rect x="569" y="128" width="1" height="58" fill="#fff"/>
<rect x="573" y="107" width="1" height="40" fill="#2d2b2b"/>
<rect x="572" y="115" width="3" height="20" fill="#2d2b2b"/>
<rect x="573" y="116" width="1" height="18" fill="#0566a8"/>
<rect x="577" y="112" width="1" height="29" fill="#2d2b2b"/>
<rect x="576" y="119" width="3" height="16" fill="#2d2b2b"/>
<rect x="577" y="120" width="1" height="14" fill="#fff"/>
<rect x="582" y="114" width="1" height="31" fill="#2d2b2b"/>
<rect x="581" y="123" width="3" height="11" fill="#2d2b2b"/>
<rect x="582" y="124" width="1" height="9" fill="#0566a8"/>
<rect x="586" y="113" width="1" height="32" fill="#2d2b2b"/>
<rect x="585" y="130" width="3" height="9" fill="#2d2b2b"/>
<rect x="586" y="131" width="1" height="7" fill="#fff"/>
<rect x="590" y="84" width="1" height="66" fill="#2d2b2b"/>
<rect x="589" y="90" width="3" height="39" fill="#2d2b2b"/>
<rect x="590" y="91" width="1" height="37" fill="#fff"/>
<rect x="595" y="59" width="1" height="22" fill="#2d2b2b"/>
<rect x="594" y="66" width="3" height="10" fill="#2d2b2b"/>
<rect x="595" y="67" width="1" height="8" fill="#fff"/>
<rect x="599" y="66" width="1" height="18" fill="#2d2b2b"/>
<rect x="598" y="70" width="3" height="10" fill="#2d2b2b"/>
<rect x="599" y="71" width="1" height="8" fill="#0566a8"/>
<rect x="603" y="11" width="1" height="47" fill="#2d2b2b"/>
<rect x="602" y="19" width="3" height="34" fill="#2d2b2b"/>
<rect x="603" y="20" width="1" height="32" fill="#fff"/>
<rect x="607" y="17" width="1" height="47" fill="#2d2b2b"/>
<rect x="606" y="25" width="3" height="30" fill="#2d2b2b"/>
<rect x="607" y="26" width="1" height="28" fill="#0566a8"/>
<rect x="612" y="47" width="1" height="17" fill="#2d2b2b"/>
<rect x="611" y="55" width="3" height="1" fill="#2d2b2b"/>
<rect x="616" y="33" width="1" height="19" fill="#2d2b2b"/>
<rect x="615" y="38" width="3" height="13" fill="#2d2b2b"/>
<rect x="616" y="39" width="1" height="11" fill="#fff"/>
<rect x="620" y="34" width="1" height="30" fill="#2d2b2b"/>
<rect x="619" y="41" width="3" height="21" fill="#2d2b2b"/>
<rect x="620" y="42" width="1" height="19" fill="#0566a8"/>
<rect x="624" y="44" width="1" height="27" fill="#2d2b2b"/>
<rect x="623" y="52" width="3" height="8" fill="#2d2b2b"/>
<rect x="624" y="53" width="1" height="6" fill="#0566a8"/>
<rect x="629" y="49" width="1" height="58" fill="#2d2b2b"/>
<rect x="628" y="56" width="3" height="44" fill="#2d2b2b"/>
<rect x="629" y="57" width="1" height="42" fill="#0566a8"/>
<rect x="633" y="84" width="1" height="31" fill="#2d2b2b"/>
<rect x="632" y="101" width="3" height="10" fill="#2d2b2b"/>
<rect x="633" y="102" width="1" height="8" fill="#0566a8"/>
<rect x="637" y="107" width="1" height="35" fill="#2d2b2b"/>
<rect x="636" y="111" width="3" height="7" fill="#2d2b2b"/>
<rect x="637" y="112" width="1" height="5" fill="#0566a8"/>
<rect x="642" y="105" width="1" height="20" fill="#2d2b2b"/>
<rect x="641" y="108" width="3" height="8" fill="#2d2b2b"/>
<rect x="642" y="109" width="1" height="6" fill="#0566a8"/>
<rect x="646" y="115" width="1" height="23" fill="#2d2b2b"/>
<rect x="645" y="119" width="3" height="11" fill="#2d2b2b"/>
<rect x="646" y="120" width="1" height="9" fill="#fff"/>
<rect x="650" y="105" width="1" height="19" fill="#2d2b2b"/>
<rect x="649" y="111" width="3" height="3" fill="#2d2b2b"/>
<rect x="650" y="112" width="1" height="1" fill="#fff"/>
<rect x="654" y="95" width="1" height="19" fill="#2d2b2b"/>
<rect x="653" y="105" width="3" height="1" fill="#2d2b2b"/>
<rect x="659" y="91" width="1" height="32" fill="#2d2b2b"/>
<rect x="658" y="96" width="3" height="27" fill="#2d2b2b"/>
<rect x="659" y="97" width="1" height="25" fill="#fff"/>
<rect x="663" y="63" width="1" height="45" fill="#2d2b2b"/>
<rect x="662" y="67" width="3" height="32" fill="#2d2b2b"/>
<rect x="663" y="68" width="1" height="30" fill="#fff"/>
<rect x="667" y="74" width="1" height="35" fill="#2d2b2b"/>
<rect x="666" y="74" width="3" height="31" fill="#2d2b2b"/>
<rect x="667" y="75" width="1" height="29" fill="#0566a8"/>
<rect x="672" y="102" width="1" height="28" fill="#2d2b2b"/>
<rect x="671" y="102" width="3" height="20" fill="#2d2b2b"/>
<rect x="672" y="103" width="1" height="18" fill="#fff"/>
<rect x="676" y="73" width="1" height="41" fill="#2d2b2b"/>
<rect x="675" y="90" width="3" height="10" fill="#2d2b2b"/>
<rect x="676" y="91" width="1" height="8" fill="#fff"/>
<rect x="680" y="79" width="1" height="22" fill="#2d2b2b"/>
<rect x="679" y="92" width="3" height="3" fill="#2d2b2b"/>
<rect x="680" y="93" width="1" height="1" fill="#0566a8"/>
<rect x="684" y="73" width="1" height="27" fill="#2d2b2b"/>
<rect x="683" y="90" width="3" height="3" fill="#2d2b2b"/>
<rect x="684" y="91" width="1" height="1" fill="#0566a8"/>
<rect x="689" y="73" width="1" height="69" fill="#2d2b2b"/>
<rect x="688" y="76" width="3" height="56" fill="#2d2b2b"/>
<rect x="689" y="77" width="1" height="54" fill="#0566a8"/>
<rect x="693" y="114" width="1" height="34" fill="#2d2b2b"/>
<rect x="692" y="133" width="3" height="15" fill="#2d2b2b"/>
<rect x="693" y="134" width="1" height="13" fill="#0566a8"/>
<rect x="697" y="139" width="1" height="52" fill="#2d2b2b"/>
<rect x="696" y="139" width="3" height="44" fill="#2d2b2b"/>
<rect x="697" y="140" width="1" height="42" fill="#0566a8"/>
<rect x="701" y="139" width="1" height="32" fill="#2d2b2b"/>
<rect x="700" y="156" width="3" height="2" fill="#2d2b2b"/>
<rect x="706" y="147" width="1" height="35" fill="#2d2b2b"/>
<rect x="705" y="151" width="3" height="8" fill="#2d2b2b"/>
<rect x="706" y="152" width="1" height="6" fill="#fff"/>
</g>
<g shape-rendering="crispEdges" fill="#222">
<rect x="157" y="109" width="706" height="2"/>
<rect x="662" y="62" width="201" height="2"/>
<rect x="569" y="202" width="294" height="2"/>
</g>
<line x1="602.5" y1="11.3" x2="862.5" y2="193" stroke="#222" stroke-width="2" stroke-linecap="butt"/>
<polyline points="1.0,447.6 17.4,437.0 24.0,433.0 30.0,430.6 39.0,423.6 46.0,421.0 53.0,416.4 73.6,407.0 82.0,403.0 86.0,402.4 94.4,398.0 115.6,388.0 120.0,387.6 138.0,378.4 158.0,369.5 175.6,360.6 180.0,360.4 193.0,354.0 197.4,353.6 206.0,349.0 210.0,348.6 226.0,340.4 234.0,338.6 240.0,336.4 248.0,334.6 253.0,332.0 261.4,330.0 272.0,327.6 288.0,324.4 293.0,321.6 305.0,319.0 318.0,316.4 325.5,312.9 346.6,307.4 368.5,303.0 389.7,296.5 400.0,293.0 411.6,289.7 423.4,285.1 452.9,278.3 464.6,273.6 475.5,270.8 495.5,261.9 525.7,253.2 540.0,249.0 548.0,246.0 556.0,244.4 561.0,241.6 570.0,239.0 582.0,236.6 588.0,234.0 599.0,231.0 617.0,222.4 626.0,219.0 634.0,216.4 645.0,214.0 651.0,211.0 660.0,209.6 668.0,206.4 673.0,205.4 680.0,202.0 690.0,200.0 698.0,198.0 706.6,197.6" fill="none" stroke="#078fd9" stroke-width="2.3" stroke-linejoin="round" shape-rendering="crispEdges"/>
<g shape-rendering="crispEdges" fill="#c8c8c8">
<rect x="0" y="0" width="920" height="1"/>
<rect x="0" y="0" width="1" height="490"/>
<rect x="919" y="0" width="1" height="460"/>
<rect x="0" y="459" width="920" height="1"/>
<rect x="0" y="475" width="864" height="1"/>
<rect x="0" y="489" width="864" height="1"/>
<rect x="863" y="0" width="1" height="490"/>
<rect x="17" y="459" width="1" height="16"/>
<rect x="34" y="459" width="1" height="16"/>
<rect x="56" y="459" width="1" height="16"/>
<rect x="73" y="459" width="1" height="16"/>
<rect x="94" y="459" width="1" height="16"/>
<rect x="115" y="459" width="1" height="16"/>
<rect x="137" y="459" width="1" height="16"/>
<rect x="158" y="459" width="1" height="16"/>
<rect x="175" y="459" width="1" height="16"/>
<rect x="197" y="459" width="1" height="16"/>
<rect x="218" y="459" width="1" height="16"/>
<rect x="240" y="459" width="1" height="16"/>
<rect x="261" y="459" width="1" height="16"/>
<rect x="282" y="459" width="1" height="16"/>
<rect x="304" y="459" width="1" height="16"/>
<rect x="325" y="459" width="1" height="16"/>
<rect x="346" y="459" width="1" height="16"/>
<rect x="368" y="459" width="1" height="16"/>
<rect x="389" y="459" width="1" height="16"/>
<rect x="411" y="459" width="1" height="16"/>
<rect x="432" y="459" width="1" height="16"/>
<rect x="453" y="459" width="1" height="16"/>
<rect x="475" y="459" width="1" height="16"/>
<rect x="496" y="459" width="1" height="16"/>
<rect x="518" y="459" width="1" height="16"/>
<rect x="535" y="459" width="1" height="16"/>
<rect x="556" y="459" width="1" height="16"/>
<rect x="577" y="459" width="1" height="16"/>
<rect x="599" y="459" width="1" height="16"/>
<rect x="616" y="459" width="1" height="16"/>
<rect x="637" y="459" width="1" height="16"/>
<rect x="659" y="459" width="1" height="16"/>
<rect x="680" y="459" width="1" height="16"/>
<rect x="701" y="459" width="1" height="16"/>
<rect x="723" y="459" width="1" height="16"/>
<rect x="744" y="459" width="1" height="16"/>
<rect x="766" y="459" width="1" height="16"/>
<rect x="787" y="459" width="1" height="16"/>
<rect x="808" y="459" width="1" height="16"/>
<rect x="830" y="459" width="1" height="16"/>
<rect x="851" y="459" width="1" height="16"/>
<rect x="56" y="475" width="1" height="14"/>
<rect x="150" y="475" width="1" height="14"/>
<rect x="240" y="475" width="1" height="14"/>
<rect x="329" y="475" width="1" height="14"/>
<rect x="428" y="475" width="1" height="14"/>
<rect x="518" y="475" width="1" height="14"/>
<rect x="603" y="475" width="1" height="14"/>
<rect x="697" y="475" width="1" height="14"/>
<rect x="787" y="475" width="1" height="14"/>
<rect x="864" y="5" width="5" height="1"/>
<rect x="864" y="16" width="3" height="1"/>
<rect x="864" y="27" width="5" height="1"/>
<rect x="864" y="39" width="3" height="1"/>
<rect x="864" y="50" width="5" height="1"/>
<rect x="864" y="61" width="3" height="1"/>
<rect x="864" y="73" width="5" height="1"/>
<rect x="864" y="84" width="3" height="1"/>
<rect x="864" y="95" width="5" height="1"/>
<rect x="864" y="107" width="3" height="1"/>
<rect x="864" y="118" width="5" height="1"/>
<rect x="864" y="130" width="3" height="1"/>
<rect x="864" y="141" width="5" height="1"/>
<rect x="864" y="152" width="3" height="1"/>
<rect x="864" y="164" width="5" height="1"/>
<rect x="864" y="175" width="3" height="1"/>
<rect x="864" y="186" width="5" height="1"/>
<rect x="864" y="198" width="3" height="1"/>
<rect x="864" y="209" width="5" height="1"/>
<rect x="864" y="221" width="3" height="1"/>
<rect x="864" y="232" width="5" height="1"/>
<rect x="864" y="243" width="3" height="1"/>
<rect x="864" y="255" width="5" height="1"/>
<rect x="864" y="266" width="3" height="1"/>
<rect x="864" y="277" width="5" height="1"/>
<rect x="864" y="289" width="3" height="1"/>
<rect x="864" y="300" width="5" height="1"/>
<rect x="864" y="311" width="3" height="1"/>
<rect x="864" y="323" width="5" height="1"/>
<rect x="864" y="334" width="3" height="1"/>
<rect x="864" y="346" width="5" height="1"/>
<rect x="864" y="357" width="3" height="1"/>
<rect x="864" y="368" width="5" height="1"/>
<rect x="864" y="380" width="3" height="1"/>
<rect x="864" y="391" width="5" height="1"/>
<rect x="864" y="402" width="3" height="1"/>
<rect x="864" y="414" width="5" height="1"/>
<rect x="864" y="425" width="3" height="1"/>
<rect x="864" y="436" width="5" height="1"/>
<rect x="864" y="448" width="3" height="1"/>
</g>
<text x="889.0" y="30.1" text-anchor="end">100</text>
<text x="889.0" y="53.1" text-anchor="end">99</text>
<text x="889.0" y="76.1" text-anchor="end">98</text>
<text x="889.0" y="98.1" text-anchor="end">97</text>
<text x="889.0" y="121.1" text-anchor="end">96</text>
<text x="889.0" y="144.1" text-anchor="end">95</text>
<text x="889.0" y="167.1" text-anchor="end">94</text>
<text x="889.0" y="189.1" text-anchor="end">93</text>
<text x="889.0" y="212.1" text-anchor="end">92</text>
<text x="889.0" y="235.1" text-anchor="end">91</text>
<text x="889.0" y="258.1" text-anchor="end">90</text>
<text x="889.0" y="280.1" text-anchor="end">89</text>
<text x="889.0" y="303.1" text-anchor="end">88</text>
<text x="889.0" y="326.1" text-anchor="end">87</text>
<text x="889.0" y="349.1" text-anchor="end">86</text>
<text x="889.0" y="371.1" text-anchor="end">85</text>
<text x="889.0" y="394.1" text-anchor="end">84</text>
<text x="889.0" y="417.1" text-anchor="end">83</text>
<text x="889.0" y="439.1" text-anchor="end">82</text>
<text x="19.5" y="470.5">18</text>
<text x="36.5" y="470.5">24</text>
<text x="58.5" y="470.5">2</text>
<text x="75.5" y="470.5">8</text>
<text x="96.5" y="470.5">15</text>
<text x="117.5" y="470.5">22</text>
<text x="139.5" y="470.5">29</text>
<text x="160.5" y="470.5">6</text>
<text x="177.5" y="470.5">12</text>
<text x="199.5" y="470.5">19</text>
<text x="220.5" y="470.5">26</text>
<text x="242.5" y="470.5">3</text>
<text x="263.5" y="470.5">10</text>
<text x="284.5" y="470.5">17</text>
<text x="306.5" y="470.5">24</text>
<text x="327.5" y="470.5">31</text>
<text x="348.5" y="470.5">7</text>
<text x="370.5" y="470.5">14</text>
<text x="391.5" y="470.5">21</text>
<text x="413.5" y="470.5">28</text>
<text x="434.5" y="470.5">4</text>
<text x="455.5" y="470.5">11</text>
<text x="477.5" y="470.5">18</text>
<text x="498.5" y="470.5">25</text>
<text x="520.5" y="470.5">2</text>
<text x="537.5" y="470.5">9</text>
<text x="558.5" y="470.5">16</text>
<text x="579.5" y="470.5">23</text>
<text x="601.5" y="470.5">30</text>
<text x="618.5" y="470.5">6</text>
<text x="639.5" y="470.5">13</text>
<text x="661.5" y="470.5">20</text>
<text x="682.5" y="470.5">27</text>
<text x="703.5" y="470.5">4</text>
<text x="725.5" y="470.5">11</text>
<text x="746.5" y="470.5">18</text>
<text x="768.5" y="470.5">25</text>
<text x="789.5" y="470.5">1</text>
<text x="810.5" y="470.5">8</text>
<text x="832.5" y="470.5">15</text>
<text x="58.6" y="484.5" style="letter-spacing:0" textLength="42.1" lengthAdjust="spacing">Mai 2017</text>
<text x="152.6" y="484.5" style="letter-spacing:0" textLength="34.8" lengthAdjust="spacing">Juni '17</text>
<text x="242.6" y="484.5" style="letter-spacing:0" textLength="31.7" lengthAdjust="spacing">Juli '17</text>
<text x="331.6" y="484.5" style="letter-spacing:0" textLength="46.1" lengthAdjust="spacing">August '17</text>
<text x="430.6" y="484.5" style="letter-spacing:0" textLength="67.0" lengthAdjust="spacing">September '17</text>
<text x="520.6" y="484.5" style="letter-spacing:0" textLength="52.3" lengthAdjust="spacing">Oktober '17</text>
<text x="605.6" y="484.5" style="letter-spacing:0" textLength="63.5" lengthAdjust="spacing">November '17</text>
<text x="699.6" y="484.5" style="letter-spacing:0" textLength="63.5" lengthAdjust="spacing">Dezember '17</text>
<text x="789.6" y="484.5" style="letter-spacing:0" textLength="41.7" lengthAdjust="spacing">Jan 2018</text>
</svg></body></html>
